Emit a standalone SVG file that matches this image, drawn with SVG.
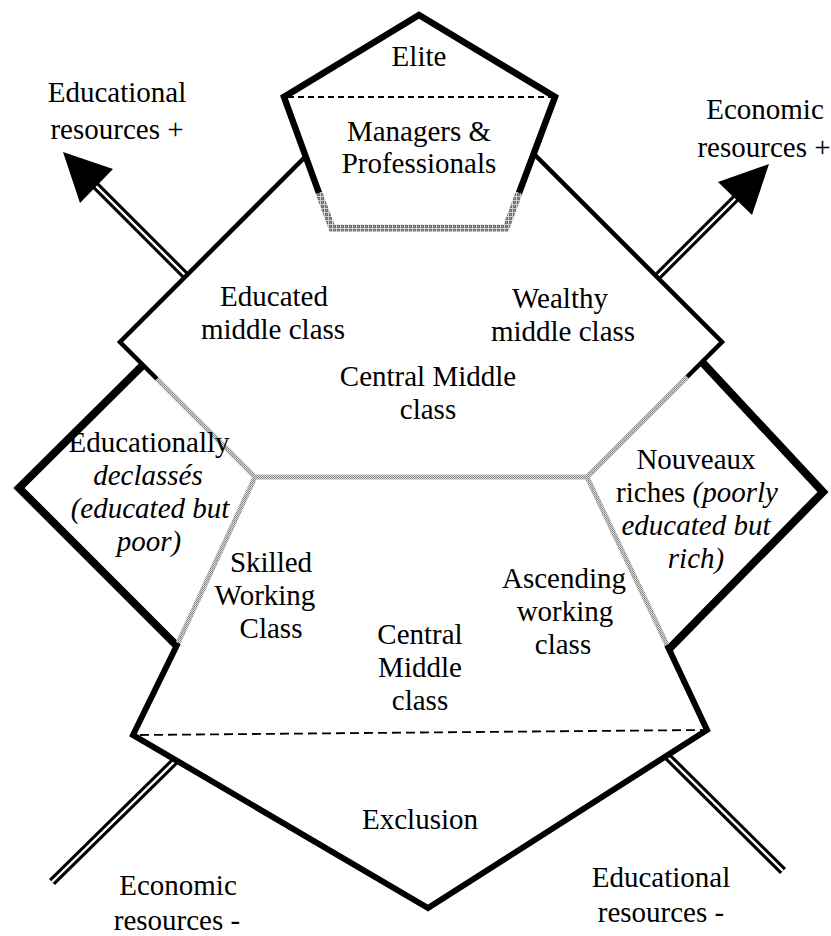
<svg xmlns="http://www.w3.org/2000/svg" width="831" height="936" viewBox="0 0 831 936">
<defs>
<pattern id="gDark" width="4" height="4" patternUnits="userSpaceOnUse">
<rect width="4" height="4" fill="#707070"/>
<rect width="4" height="1" fill="#d0d0d0"/>
<rect width="1" height="4" fill="#d0d0d0"/>
<rect x="2" y="2" width="1" height="1" fill="#a0a0a0"/>
</pattern>
<pattern id="gLight" width="2" height="2" patternUnits="userSpaceOnUse">
<rect width="2" height="2" fill="#d8d8d8"/>
<rect width="1" height="1" fill="#7e7e7e"/>
<rect x="1" y="1" width="1" height="1" fill="#9a9a9a"/>
</pattern>
<style>
.t{font-family:"Liberation Serif","Times New Roman",serif;font-size:29px;text-anchor:middle;fill:#000}
.i{font-style:italic}
.thin{fill:none;stroke:#000;stroke-width:4.5;stroke-linejoin:miter}
.thick{fill:none;stroke:#000;stroke-width:8;stroke-linejoin:miter;stroke-miterlimit:10}
.mid{fill:none;stroke:#000;stroke-width:6;stroke-linejoin:miter;stroke-miterlimit:10}
.grayL{fill:none;stroke:url(#gLight);stroke-width:5;stroke-linejoin:miter}
.grayD{fill:none;stroke:url(#gDark);stroke-width:7;stroke-linejoin:miter}
.dash{fill:none;stroke:#000;stroke-width:1.8}
.shaftB{stroke:#000;stroke-width:8.5;fill:none}
.shaftW{stroke:#fff;stroke-width:2.4;fill:none}
.head{fill:#000;stroke:none}
</style>
</defs>
<rect width="831" height="936" fill="#fff"/>

<g id="connectors">
<line class="shaftB" x1="186" y1="276" x2="95" y2="185"/>
<line class="shaftW" x1="186" y1="276" x2="95" y2="185"/>
<polygon class="head" points="63,152 113,169 80,203"/>
<line class="shaftB" x1="657" y1="277" x2="737" y2="197"/>
<line class="shaftW" x1="657" y1="277" x2="737" y2="197"/>
<polygon class="head" points="769,164 752,215 718,182"/>
<line class="shaftB" x1="176" y1="760" x2="52" y2="882"/>
<line class="shaftW" x1="176" y1="760" x2="52" y2="882"/>
<line class="shaftB" x1="667" y1="756" x2="783" y2="871"/>
<line class="shaftW" x1="667" y1="756" x2="783" y2="871"/>
</g>

<g id="upper-diamond">
<path class="thin" d="M306,156 L120,342 L157,379"/>
<path class="thin" d="M534,154 L722,342 L687,377"/>
<path class="grayL" d="M157,379 L255,477 L587,477 L687,377"/>
<text class="t" x="274" y="306">Educated</text>
<text class="t" x="273" y="339">middle class</text>
<text class="t" x="560" y="308">Wealthy</text>
<text class="t" x="563" y="341">middle class</text>
<text class="t" x="428" y="386">Central Middle</text>
<text class="t" x="428" y="419">class</text>
</g>

<g id="elite">
<polygon points="419,15 284,97 332,228 506,228 555,97" fill="#fff"/>
<path class="thick" style="stroke-width:6.5" d="M319,193 L284,97 L419,15 L555,97 L519,193"/>
<path class="grayD" d="M319,193 L332,228 L506,228 L519,193"/>
<line class="dash" x1="288" y1="97" x2="551" y2="97" stroke-dasharray="6 4"/>
<text class="t" x="419" y="66">Elite</text>
<text class="t" x="419" y="141">Managers &amp;</text>
<text class="t" x="419" y="173">Professionals</text>
</g>

<g id="educationally-declasses">
<path class="thick" d="M143,365 L19,488 L177,646"/>
<path class="grayL" d="M255,477 L178,643"/>
<text class="t" x="149" y="452">Educationally</text>
<text class="t i" x="148" y="485">declassés</text>
<text class="t i" x="150" y="518">(educated but</text>
<text class="t i" x="149" y="551">poor)</text>
</g>

<g id="nouveaux-riches">
<path class="thick" d="M702,362 L823,492 L668,650"/>
<path class="grayL" d="M587,477 L667,645"/>
<text class="t" x="696" y="469">Nouveaux</text>
<text class="t" x="697" y="502">riches <tspan class="i">(poorly</tspan></text>
<text class="t i" x="696" y="535">educated but</text>
<text class="t i" x="696" y="568">rich)</text>
</g>

<g id="working-classes">
<text class="t" x="271" y="572">Skilled</text>
<text class="t" x="265" y="605">Working</text>
<text class="t" x="271" y="638">Class</text>
<text class="t" x="420" y="644">Central</text>
<text class="t" x="420" y="677">Middle</text>
<text class="t" x="420" y="710">class</text>
<text class="t" x="564" y="588">Ascending</text>
<text class="t" x="565" y="621">working</text>
<text class="t" x="563" y="654">class</text>
</g>

<g id="exclusion">
<path class="mid" d="M178,643 L133,735 L428,908 L707,730 L667,645"/>
<line class="dash" x1="140" y1="735" x2="702" y2="730" stroke-width="2" stroke-dasharray="9 5"/>
<text class="t" x="420" y="829">Exclusion</text>
</g>

<g id="axis-labels">
<text class="t" x="117" y="102">Educational</text>
<text class="t" x="117" y="139">resources +</text>
<text class="t" x="765" y="119">Economic</text>
<text class="t" x="764" y="157">resources +</text>
<text class="t" x="178" y="895">Economic</text>
<text class="t" x="177" y="930">resources -</text>
<text class="t" x="661" y="887">Educational</text>
<text class="t" x="661" y="922">resources -</text>
</g>
</svg>
